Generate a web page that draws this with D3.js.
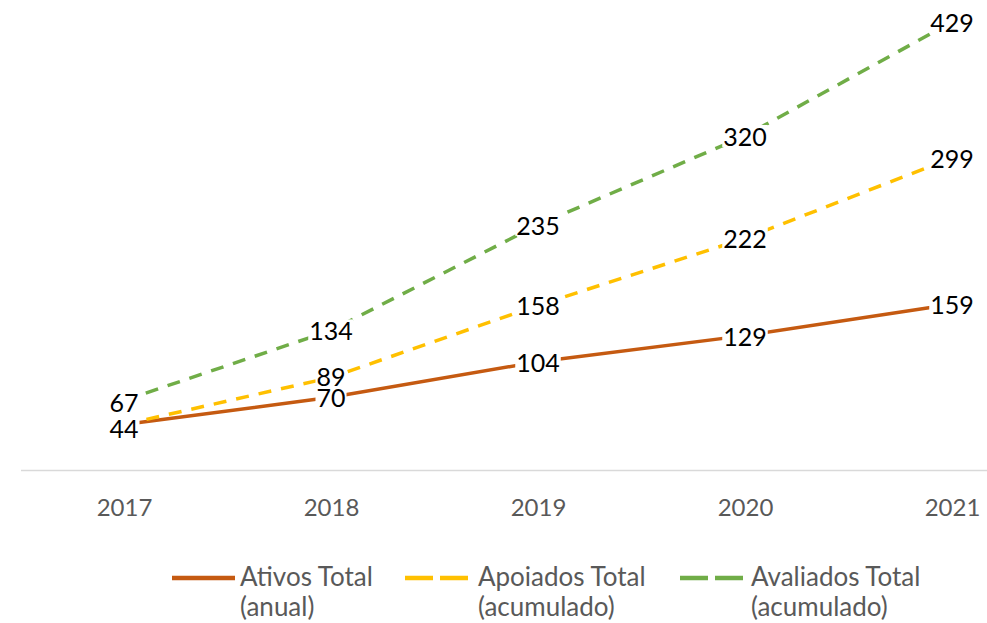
<!DOCTYPE html>
<html>
<head>
<meta charset="utf-8">
<script src="https://cdn.jsdelivr.net/npm/d3@7"></script>
<style>
  html, body { margin: 0; padding: 0; background: #fff; }
  svg { display: block; }
  text { font-family: Lato, "Open Sans", sans-serif; }
</style>
</head>
<body>
<svg id="chart" width="987" height="623"></svg>
<script>
const years = ["2017", "2018", "2019", "2020", "2021"];
const ativos = [44, 70, 104, 129, 159];
const apoiados = [44, 89, 158, 222, 299];
const avaliados = [67, 134, 235, 320, 429];
const seriesNames = [["Ativos Total", "(anual)"], ["Apoiados Total", "(acumulado)"], ["Avaliados Total", "(acumulado)"]];
const colors = ["#C55A11", "#FFC000", "#70AD47"];

const series = [
  { name: seriesNames[0], values: ativos, color: colors[0], dash: null },
  { name: seriesNames[1], values: apoiados, color: colors[1], dash: "13,10" },
  { name: seriesNames[2], values: avaliados, color: colors[2], dash: "13,10" }
];

const svg = d3.select("#chart");
const x = d3.scalePoint().domain(years).range([124, 952]);
const y = d3.scaleLinear().domain([0, 429]).range([470.5, 22]);

// axis line
svg.append("line")
  .attr("x1", 21).attr("x2", 987)
  .attr("y1", y(0)).attr("y2", y(0))
  .attr("stroke", "#d9d9d9").attr("stroke-width", 1.5);

// x axis labels
const xAxis = d3.axisBottom(x).tickSize(0).tickPadding(0);
const gx = svg.append("g").attr("transform", `translate(0,${y(0)})`).call(xAxis);
gx.select(".domain").remove();
gx.selectAll("text")
  .attr("y", 45).attr("dy", 0)
  .attr("fill", "#595959")
  .style("font-family", "Lato, 'Open Sans', sans-serif")
  .style("font-size", "24px");

// lines
const line = d3.line().x((d, i) => x(years[i])).y(d => y(d));
series.forEach(s => {
  svg.append("path")
    .datum(s.values)
    .attr("d", line)
    .attr("fill", "none")
    .attr("stroke", s.color)
    .attr("stroke-width", 3.5)
    .attr("stroke-dasharray", s.dash);
});

// data labels with white background
const labelLayer = svg.append("g");
const drawOrder = [2, 1, 0];
const yNudge = { "2-0": 2, "0-0": 3, "1-1": -1 };
drawOrder.forEach(k => {
  const s = series[k];
  s.values.forEach((v, i) => {
    if (k === 1 && i === 0) return; // 44 shared label drawn once
    const g = labelLayer.append("g");
    const t = g.append("text")
      .attr("x", x(years[i]))
      .attr("y", y(v) + (yNudge[k + "-" + i] || 0))
      .attr("text-anchor", "middle")
      .attr("dominant-baseline", "central")
      .attr("fill", "#000")
      .style("font-size", "25px")
      .text(v);
    const bb = t.node().getBBox();
    g.insert("rect", "text")
      .attr("x", bb.x - 1).attr("y", bb.y + 4)
      .attr("width", bb.width + 2).attr("height", bb.height - 8)
      .attr("fill", "#fff");
  });
});

// legend
const legendItems = [
  { sx: 172, ex: 235, tx: 240 },
  { sx: 405, ex: 471, tx: 478 },
  { sx: 680, ex: 745, tx: 751 }
];
series.forEach((s, k) => {
  const L = legendItems[k];
  svg.append("line")
    .attr("x1", L.sx).attr("x2", L.ex)
    .attr("y1", 578).attr("y2", 578)
    .attr("stroke", s.color)
    .attr("stroke-width", 4.5)
    .attr("stroke-dasharray", s.dash ? "28,7" : null);
  const t = svg.append("text")
    .attr("x", L.tx).attr("y", 586)
    .attr("fill", "#595959")
    .style("font-size", "26px");
  t.append("tspan").attr("x", L.tx).attr("y", 586).text(s.name[0]);
  t.append("tspan").attr("x", L.tx).attr("y", 616).text(s.name[1]);
});
</script>
</body>
</html>
